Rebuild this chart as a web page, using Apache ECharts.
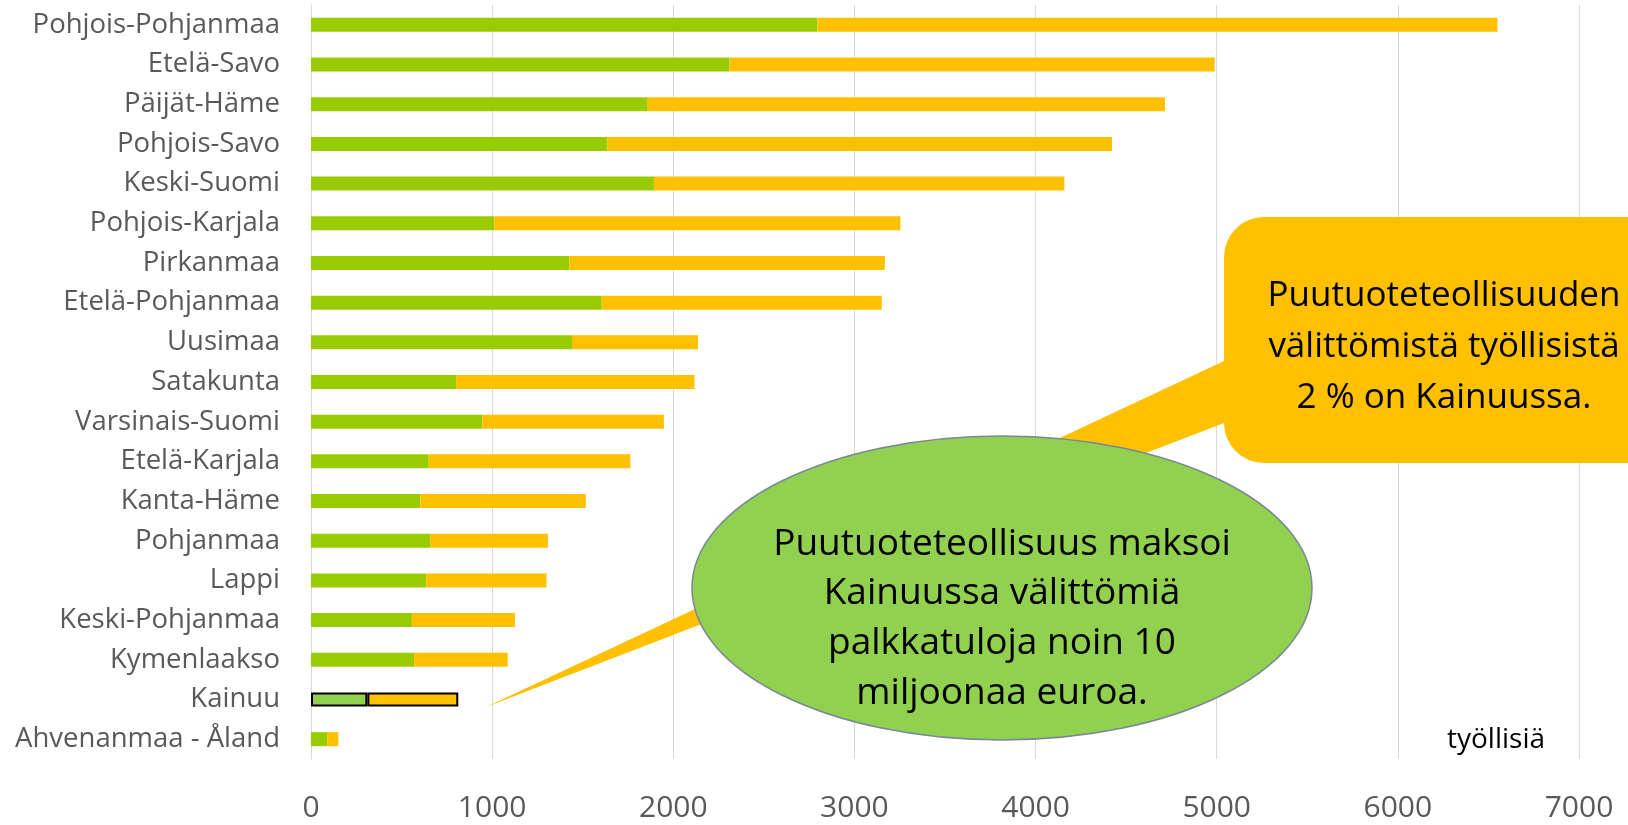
<!DOCTYPE html>
<html>
<head>
<meta charset="utf-8">
<script src="https://cdn.jsdelivr.net/npm/echarts@6/dist/echarts.min.js"></script>
<style>
html,body{margin:0;padding:0;background:#fff;}
#chart{width:1628px;height:825px;}
</style>
</head>
<body>
<div id="chart"></div>
<script>
const categories = ["Pohjois-Pohjanmaa","Etelä-Savo","Päijät-Häme","Pohjois-Savo","Keski-Suomi","Pohjois-Karjala","Pirkanmaa","Etelä-Pohjanmaa","Uusimaa","Satakunta","Varsinais-Suomi","Etelä-Karjala","Kanta-Häme","Pohjanmaa","Lappi","Keski-Pohjanmaa","Kymenlaakso","Kainuu","Ahvenanmaa - Åland"];
const directValues = [2796,2310,1859,1637,1893,1012,1426,1605,1441,801,946,650,604,660,636,557,569,311,89];
const indirectValues = [3754,2679,2855,2785,2266,2242,1742,1546,696,1316,1002,1113,913,648,664,569,517,502,62];
const xTicks = {min: 0, max: 7000, interval: 1000};
const unitLabel = "työllisiä";
const highlight = "Kainuu";
const calloutYellow = ["Puutuoteteollisuuden", "välittömistä työllisistä", "2 % on Kainuussa."];
const calloutGreen = ["Puutuoteteollisuus maksoi", "Kainuussa välittömiä", "palkkatuloja noin 10", "miljoonaa euroa."];

const FONT = '"Open Sans", Lato, sans-serif';
const GREEN = '#99cc00', GREEN_HL = '#92d050', YELLOW = '#ffc000';

const chart = echarts.init(document.getElementById('chart'), null, {renderer: 'canvas'});

const greenData = directValues.map((v, i) => categories[i] === highlight
  ? {value: v, itemStyle: {color: GREEN_HL, borderColor: '#000', borderWidth: 2}} : v);
const yellowData = indirectValues.map((v, i) => categories[i] === highlight
  ? {value: v, itemStyle: {color: YELLOW, borderColor: '#000', borderWidth: 2}} : v);

function textLines(lines, cx, y0, lh, size) {
  return lines.map((t, i) => ({
    type: 'text', z: 20,
    style: {text: t, x: cx, y: y0 + i * lh, fill: '#000', font: size + 'px ' + FONT,
      textAlign: 'center', textVerticalAlign: 'middle'}
  }));
}

const option = {
  animation: false,
  backgroundColor: '#fff',
  grid: {left: 311, right: 49, top: 5, bottom: 66, containLabel: false},
  xAxis: {
    type: 'value', min: xTicks.min, max: xTicks.max, interval: xTicks.interval,
    axisLine: {show: false}, axisTick: {show: false},
    axisLabel: {color: '#595959', fontSize: 30, fontFamily: FONT, margin: 34, formatter: v => String(v)},
    splitLine: {show: true, lineStyle: {color: '#d9d9d9', width: 1}}
  },
  yAxis: {
    type: 'category', data: categories, inverse: true,
    axisLine: {show: true, lineStyle: {color: '#d9d9d9', width: 1}},
    axisTick: {show: false},
    axisLabel: {color: '#595959', fontSize: 27.5, fontFamily: FONT, margin: 31, padding: [9, 0, 0, 0]}
  },
  series: [
    {name: 'Välittömät työlliset', type: 'bar', stack: 'total', barWidth: 14, data: greenData,
     itemStyle: {color: GREEN}},
    {name: 'Välilliset työlliset', type: 'bar', stack: 'total', barWidth: 14, data: yellowData,
     itemStyle: {color: YELLOW}}
  ],
  graphic: [
    {type: 'polygon', z: 10, shape: {points: [[1224, 361], [1224, 423], [486, 707]]}, style: {fill: YELLOW}},
    {type: 'rect', z: 10, shape: {x: 1224, y: 217, width: 450, height: 246, r: 40}, style: {fill: YELLOW}},
    {type: 'ellipse', z: 15, shape: {cx: 1002, cy: 588, rx: 310, ry: 152}, style: {fill: GREEN_HL, stroke: '#788896', lineWidth: 1.5}},
    ...textLines(calloutYellow, 1444, 296, 51, 35),
    ...textLines(calloutGreen, 1002, 544, 49.7, 37),
    {type: 'text', z: 20, style: {text: unitLabel, x: 1496, y: 740, fill: '#000', font: '28px ' + FONT, textAlign: 'center', textVerticalAlign: 'middle'}}
  ]
};
chart.setOption(option);
</script>
</body>
</html>
